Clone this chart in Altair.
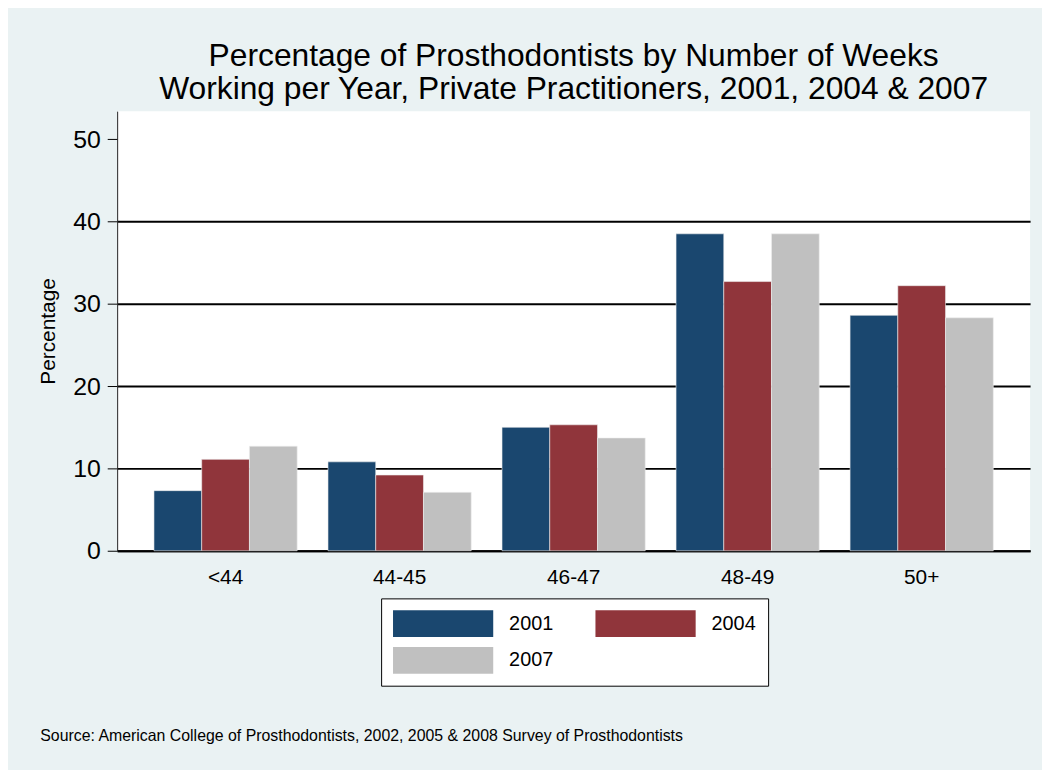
import altair as alt
import pandas as pd

categories = ["<44", "44-45", "46-47", "48-49", "50+"]
years = ["2001", "2004", "2007"]
v2001 = [7.3, 10.8, 15.0, 38.5, 28.6]
v2004 = [11.1, 9.2, 15.3, 32.7, 32.2]
v2007 = [12.7, 7.1, 13.7, 38.5, 28.3]
colors = ["#1A476F", "#90353B", "#C0C0C0"]
y_ticks = [0, 10, 20, 30, 40, 50]

rows = []
for yr, vals in zip(years, [v2001, v2004, v2007]):
    for c, v in zip(categories, vals):
        rows.append({"Weeks": c, "Year": yr, "Percentage": v})
df = pd.DataFrame(rows)

FONT = "Liberation Sans"
SOURCE = "Source: American College of Prosthodontists, 2002, 2005 & 2008 Survey of Prosthodontists"

chart = alt.Chart(df).mark_bar(stroke="#EEEEEE", strokeWidth=0.6).encode(
    x=alt.X(
        "Weeks:N",
        sort=categories,
        scale=alt.Scale(paddingInner=0.177, paddingOuter=0.2115),
        axis=alt.Axis(
            title=SOURCE,
            titleFont=FONT,
            titleFontSize=16,
            titleFontWeight="normal",
            titleColor="#000000",
            titleAnchor="start",
            titleAlign="left",
            titleBaseline="alphabetic",
            titleX=-78,
            titleY=191,
            labelAngle=0,
            labelFont=FONT,
            labelFontSize=21,
            labelColor="#000000",
            labelPadding=16,
            ticks=False,
            domain=True,
            domainColor="#000000",
            domainWidth=2,
            grid=False,
        ),
    ),
    xOffset=alt.XOffset("Year:N", sort=years, scale=alt.Scale(paddingInner=0, paddingOuter=0)),
    y=alt.Y(
        "Percentage:Q",
        scale=alt.Scale(domain=[0, 53.4], nice=False, zero=True),
        axis=alt.Axis(
            title="Percentage",
            titleFont=FONT,
            titleFontSize=21,
            titleFontWeight="normal",
            titleColor="#000000",
            titlePadding=14,
            values=y_ticks,
            labelFont=FONT,
            labelFontSize=25,
            labelColor="#000000",
            labelPadding=7,
            tickSize=10,
            tickColor="#000000",
            tickWidth=1,
            domainColor="#222222",
            domainWidth=1,
            grid=True,
            gridColor="#000000",
            gridWidth=2,
            gridOpacity={"condition": {"test": "datum.value >= 50", "value": 0}, "value": 1},
        ),
    ),
    color=alt.Color(
        "Year:N",
        sort=years,
        scale=alt.Scale(domain=years, range=colors),
        legend=alt.Legend(
            title=None,
            orient="none",
            legendX=266,
            legendY=491,
            direction="horizontal",
            columns=2,
            symbolType="M-1,-1L6.48,-1L6.48,1L-1,1Z",
            symbolSize=729,
            symbolStrokeWidth=0,
            labelFont=FONT,
            labelFontSize=20,
            labelColor="#000000",
            labelOffset=90,
            columnPadding=42,
            rowPadding=10,
            padding=12,
            strokeColor="#000000",
            fillColor="#FFFFFF",
            cornerRadius=0,
        ),
    ),
).properties(
    width=920,
    height=443,
    title=alt.TitleParams(
        text=["Percentage of Prosthodontists by Number of Weeks",
              "Working per Year, Private Practitioners, 2001, 2004 & 2007"],
        font=FONT,
        fontSize=32,
        fontWeight="normal",
        color="#000000",
        anchor="middle",
        frame="group",
        lineHeight=33,
        offset=5,
    ),
    autosize=alt.AutoSizeParams(type="none"),
    padding={"left": 110, "top": 101, "right": 12, "bottom": 218},
    background="#EAF2F3",
).configure_view(
    fill="#FFFFFF",
    stroke=None,
)

chart.save("out.html", embed_options={"renderer": "svg", "actions": False})
